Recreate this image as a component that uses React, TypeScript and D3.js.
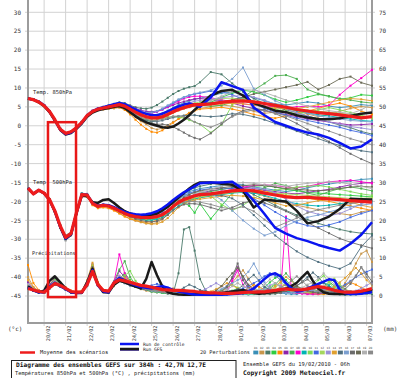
import React from "react";
import * as d3 from "d3";

// time grids (hours after 19/02/2010 06h)
const HOURS_TEMP: number[] = [...d3.range(0, 193, 6), ...d3.range(204, 385, 12)];
const HOURS_PRECIP: number[] = d3.range(0, 385, 6);
const DAY_HOURS: number[] = d3.range(18, 385, 24);
const DAY_LABELS = ["20/02","21/02","22/02","23/02","24/02","25/02","26/02","27/02","28/02","01/03","02/03","03/03","04/03","05/03","06/03","07/03"];
const TEMP_TICKS = [30,25,20,15,10,5,0,-5,-10,-15,-20,-25,-30,-35,-40,-45];
const PRECIP_TICKS = [75,70,65,60,55,50,45,40,35,30,25,20,15,10,5,0];
const MEMBER_IDS = ["01","02","03","04","05","06","07","08","09","10","11","12","13","14","15","16","17","18","19","20"];
const MEMBER_COLORS = ["#3a8fb7","#c8964b","#4a7a6a","#2ecc40","#ff8c00","#8e24aa","#4caf50","#ff00cc","#00b3b3","#7ed957","#4169e1","#a4d65e","#9a8fd8","#e0a030","#4f6f7f","#7b9fd0","#6b6b6b","#6a6a55","#b0b0b0","#8a8a8a"];

// 850 hPa (°C)
const MEAN_850 = [7.2,6.9,6.3,5.3,3.8,1.6,-0.9,-2.0,-1.6,-0.5, 0.9,2.7,3.8,4.4,4.7,5.0,5.3,5.6,5.2,4.4, 3.6,2.9,2.4,2.1,2.1,2.4,3.0,3.7,4.3,4.8,5.2,5.6,5.6, 5.8,6.2,6.5,6.6,6.3,5.9,5.4,4.9,4.3,3.9,3.5,3.2,2.9,2.5,2.1,2.4];
const CTRL_850 = [7.2,6.9,6.4,5.4,3.8,1.5,-1.0,-2.2,-1.8,-0.6, 0.8,2.7,3.9,4.5,4.9,5.3,5.7,6.0,5.7,5.0, 4.3,3.6,3.1,2.8,2.8,3.2,3.8,4.5,5.1,5.6,5.9,5.6,5.0, 7.5,11.5,10.5,9.5,4.8,2.8,1.0,0.0,-1.0,-1.8,-2.3,-3.2,-4.5,-6.0,-5.5,-3.6];
const GFS_850 = [7.2,6.9,6.2,5.2,3.6,1.4,-1.1,-2.3,-1.9,-0.8, 0.6,2.4,3.5,4.1,4.4,4.7,5.0,5.2,4.7,3.6, 2.5,1.6,0.9,0.4,0.0,-0.4,-0.5,-0.2,0.6,1.6,2.8,4.2,5.5, 8.0,9.2,9.5,8.0,6.0,5.0,4.0,3.6,2.8,2.2,1.8,1.7,2.0,2.6,3.2,3.5];
const PERT_850: number[][] = [
  [7.2,6.9,6.4,5.4,3.9,1.7,-0.7,-1.9,-1.5,-0.3, 1.1,2.9,3.9,4.6,5.0,5.3,5.7,6.0,5.6,4.9, 4.2,3.6,3.1,2.8,2.9,3.3,4.0,4.8,5.5,6.1,6.6,7.0,7.3, 7.9,8.6,8.9,8.2,7.4,6.6,5.8,5.5,5.9,6.3,6.0,5.2,4.8,5.1,5.6,5.3],
  [7.2,6.8,6.2,5.2,3.7,1.5,-1.1,-2.2,-1.8,-0.7, 0.7,2.5,3.6,4.1,4.3,4.5,4.6,4.8,4.3,3.3, 2.3,1.2,0.4,-0.6,-1.0,-0.6,0.2,1.0,1.8,2.6,3.4,4.2,4.6, 5.0,5.5,5.2,4.6,3.8,3.3,3.6,4.4,4.0,3.1,2.4,2.9,3.8,4.6,5.1,4.8],
  [7.2,6.9,6.3,5.4,3.9,1.8,-0.8,-1.9,-1.4,-0.3, 1.0,2.8,4.0,4.6,5.0,5.4,5.8,6.2,6.0,5.4, 4.9,4.6,4.5,4.8,5.5,6.4,7.4,8.4,9.2,9.8,10.2,10.5,11.5, 14.2,13.6,11.2,9.0,7.2,5.8,5.0,4.2,3.5,2.6,1.8,1.0,0.2,-0.5,-1.5,-2.2],
  [7.2,6.9,6.3,5.2,3.7,1.5,-1.0,-2.1,-1.7,-0.6, 0.8,2.6,3.7,4.3,4.6,4.9,5.2,5.5,5.1,4.1, 3.0,2.0,1.4,1.2,1.5,2.2,3.0,3.8,4.5,5.0,5.3,5.5,5.6, 6.2,7.5,8.6,9.4,9.0,8.1,7.0,6.2,6.8,7.6,8.3,7.8,7.0,7.4,8.2,8.0],
  [7.2,6.9,6.3,5.3,3.8,1.6,-0.9,-2.1,-1.7,-0.5, 0.9,2.7,3.7,4.2,4.4,4.6,4.8,4.9,4.2,3.0, 1.6,0.3,-0.8,-1.6,-1.8,-1.2,-0.2,0.8,1.8,2.6,3.4,4.0,4.4, 4.6,4.9,4.4,3.8,3.0,2.4,2.0,2.6,3.4,3.9,4.6,5.4,6.0,5.2,3.9,3.0],
  [7.2,6.9,6.3,5.3,3.9,1.7,-0.8,-1.9,-1.5,-0.4, 1.0,2.8,3.9,4.5,4.9,5.2,5.5,5.9,5.7,5.2, 4.6,4.1,3.8,3.7,3.9,4.3,4.9,5.5,6.0,6.4,6.8,7.1,7.2, 7.0,6.6,6.0,5.2,4.6,4.0,3.4,3.0,2.4,1.8,1.4,1.0,0.6,0.2,0.3,0.5],
  [7.2,6.9,6.3,5.3,3.8,1.6,-0.9,-2.0,-1.6,-0.4, 1.0,2.8,3.9,4.5,4.8,5.1,5.5,5.8,5.4,4.5, 3.5,2.7,2.2,2.0,2.2,2.8,3.5,4.2,4.8,5.2,5.4,5.5,5.4, 5.2,5.4,6.2,7.6,9.4,11.2,13.2,13.4,12.4,9.6,8.5,7.8,7.2,6.8,6.3,6.0],
  [7.2,6.9,6.3,5.3,3.8,1.6,-0.9,-2.0,-1.5,-0.4, 1.0,2.8,4.0,4.6,4.9,5.2,5.5,5.8,5.4,4.6, 3.9,3.4,3.2,3.3,3.7,4.3,5.0,5.8,6.5,7.2,7.6,7.8,7.8, 7.4,6.9,6.3,5.8,5.4,5.2,5.0,4.8,5.0,5.2,5.0,5.4,8.2,10.6,12.6,14.8],
  [7.2,6.9,6.3,5.3,3.8,1.6,-0.8,-1.9,-1.5,-0.4, 1.0,2.8,3.9,4.5,4.8,5.1,5.4,5.7,5.3,4.6, 3.8,3.0,2.5,2.2,2.3,2.7,3.3,4.0,4.6,5.0,5.4,5.7,5.9, 6.1,6.4,6.6,6.5,6.2,5.8,5.2,4.6,4.0,3.4,2.9,2.6,2.2,1.8,1.4,1.2],
  [7.2,6.9,6.3,5.3,3.7,1.5,-1.0,-2.1,-1.7,-0.6, 0.8,2.6,3.7,4.3,4.6,4.9,5.2,5.4,4.9,4.0, 3.2,2.5,2.1,1.9,1.9,2.1,2.3,2.4,2.3,2.0,1.5,1.0,0.4, -1.8,0.3,5.6,7.4,6.2,5.0,4.4,3.8,3.2,3.6,4.2,4.8,4.2,3.5,2.8,2.0],
  [7.2,6.9,6.3,5.3,3.8,1.6,-0.9,-2.0,-1.6,-0.5, 0.9,2.7,3.8,4.4,4.8,5.2,5.6,5.9,5.6,4.9, 4.3,3.8,3.5,3.5,3.8,4.4,5.2,6.0,6.8,7.5,8.0,8.4,8.6, 9.2,9.0,8.2,7.0,5.8,4.6,3.6,2.8,2.0,1.4,0.8,0.2,-0.4,-1.2,-1.8,-2.6],
  [7.2,6.9,6.3,5.3,3.8,1.7,-0.8,-2.0,-1.6,-0.5, 0.9,2.7,3.8,4.4,4.7,5.0,5.3,5.5,5.1,4.3, 3.5,2.8,2.3,2.0,2.0,2.4,3.0,3.7,4.4,5.0,5.6,6.0,6.3, 6.8,7.2,7.3,7.0,6.5,6.0,5.6,5.0,4.5,4.1,3.8,3.6,3.3,3.0,2.6,2.2],
  [7.2,6.9,6.3,5.4,3.9,1.6,-0.9,-2.1,-1.7,-0.5, 0.9,2.8,3.9,4.4,4.7,5.0,5.3,5.6,5.2,4.4, 3.6,2.9,2.4,2.2,2.3,2.8,3.5,4.3,5.0,5.6,6.1,6.5,6.7, 7.0,7.4,7.8,8.0,7.6,6.8,5.6,4.4,3.4,2.6,1.8,1.0,0.4,-0.2,-0.6,-1.0],
  [7.2,6.9,6.3,5.3,3.8,1.5,-1.0,-2.0,-1.6,-0.5, 0.9,2.7,3.8,4.3,4.6,4.9,5.2,5.4,4.9,4.0, 3.2,2.4,1.8,1.5,1.6,2.0,2.7,3.4,4.0,4.5,4.9,5.2,5.4, 5.6,5.8,5.9,5.8,5.5,5.1,4.7,4.5,4.6,5.0,5.6,6.2,6.8,7.2,7.0,6.6],
  [7.2,6.9,6.3,5.3,3.8,1.6,-0.9,-2.0,-1.6,-0.5, 0.9,2.6,3.7,4.3,4.6,4.9,5.1,5.2,4.7,3.8, 2.9,2.0,1.4,1.1,1.1,1.4,1.8,2.2,2.5,2.7,2.8,2.8,2.6, 2.4,2.6,3.2,3.0,2.4,1.6,0.6,-0.4,-1.4,-2.4,-3.4,-4.4,-5.2,-6.0,-6.6,-7.0],
  [7.2,6.9,6.3,5.3,3.8,1.6,-0.9,-2.0,-1.6,-0.5, 0.9,2.8,3.9,4.5,4.8,5.1,5.5,5.8,5.5,4.8, 4.1,3.6,3.4,3.5,3.9,4.6,5.4,6.2,7.0,7.6,8.1,8.5,8.8, 9.4,10.6,12.4,15.4,9.8,8.2,6.6,5.4,4.2,3.4,2.6,2.2,1.8,1.4,1.2,1.0],
  [7.2,6.9,6.3,5.3,3.8,1.6,-0.9,-2.0,-1.6,-0.5, 0.9,2.7,3.8,4.4,4.6,4.8,5.0,5.1,4.6,3.6, 2.6,1.7,1.0,0.6,0.4,0.4,0.2,-0.3,-1.0,-1.8,-2.6,-3.2,-3.6, -2.0,0.4,2.6,4.0,4.6,4.2,3.2,2.0,0.6,-1.0,-2.6,-4.2,-5.8,-7.4,-8.8,-10.0],
  [7.2,6.9,6.3,5.3,3.8,1.6,-0.9,-2.0,-1.6,-0.5, 0.9,2.7,3.8,4.4,4.7,5.0,5.3,5.6,5.2,4.4, 3.6,2.9,2.4,2.1,2.1,2.4,3.0,3.6,4.2,4.7,5.1,5.4,5.6, 5.8,6.2,6.8,7.6,8.4,9.0,9.6,10.2,10.8,11.6,9.6,10.8,12.4,13.0,11.4,10.6],
  [7.2,6.9,6.3,5.3,3.8,1.6,-0.9,-2.0,-1.6,-0.5, 0.9,2.7,3.8,4.4,4.7,5.0,5.3,5.6,5.2,4.4, 3.6,2.9,2.4,2.1,2.1,2.4,3.0,3.7,4.3,4.8,5.2,5.6,5.9, 6.6,7.8,9.0,9.6,9.4,8.8,7.8,6.8,6.0,5.2,4.6,4.0,3.6,3.2,4.2,5.8],
  [7.2,6.9,6.3,5.3,3.8,1.6,-0.9,-2.0,-1.6,-0.5, 0.9,2.7,3.8,4.4,4.7,5.0,5.3,5.5,5.0,4.0, 3.0,2.2,1.7,1.4,1.4,1.7,2.1,2.5,2.6,2.4,1.8,1.0,0.4, -0.4,0.8,2.4,3.6,4.2,4.0,3.4,2.6,1.6,0.6,-0.4,-1.4,-2.4,-3.4,-4.2,-5.0],
];

// 500 hPa (°C)
const MEAN_500 = [-16.5,-18.0,-17.0,-17.8,-19.5,-22.5,-26.5,-29.5,-28.5,-23.0, -18.2,-18.3,-20.5,-21.3,-21.0,-21.2,-21.8,-22.5,-23.2,-23.7, -24.0,-24.2,-24.3,-24.2,-24.0,-23.5,-22.6,-21.3,-20.2,-19.5,-19.0,-18.5,-18.2, -18.0,-17.6,-17.2,-17.0,-17.2,-17.8,-18.3,-18.8,-19.0,-18.9,-19.1,-19.3,-19.5,-19.8,-20.0,-20.2];
const CTRL_500 = [-16.5,-18.0,-17.0,-17.8,-19.6,-22.6,-26.7,-29.8,-28.7,-23.1, -18.2,-18.2,-20.4,-21.2,-20.9,-21.0,-21.5,-22.2,-22.8,-23.2, -23.4,-23.5,-23.4,-23.1,-22.6,-21.8,-20.8,-19.6,-18.6,-17.6,-16.8,-16.0,-15.2, -15.0,-15.0,-14.8,-16.8,-19.8,-23.3,-27.0,-28.5,-29.7,-30.5,-31.5,-32.3,-33.0,-31.2,-28.8,-25.5];
const GFS_500 = [-16.5,-18.0,-17.1,-17.9,-19.6,-22.7,-26.8,-29.9,-28.8,-23.2, -18.5,-18.6,-20.2,-20.4,-19.6,-19.4,-20.4,-21.6,-22.6,-23.2, -23.6,-23.8,-23.8,-23.6,-23.2,-22.4,-21.4,-20.2,-19.0,-17.8,-16.6,-15.6,-15.0, -15.0,-15.3,-15.6,-17.2,-21.6,-19.5,-19.8,-20.0,-22.5,-25.8,-25.2,-24.0,-22.0,-19.3,-19.4,-19.5];
const PERT_500: number[][] = [
  [-16.5,-18.0,-17.1,-17.9,-19.7,-22.8,-26.9,-30.0,-28.8,-22.6, -17.8,-18.0,-20.2,-21.0,-20.8,-21.0,-21.5,-22.1,-22.8,-23.2, -23.5,-23.6,-23.5,-23.2,-22.8,-22.0,-21.0,-19.8,-18.8,-18.0,-17.4,-17.0,-16.6, -16.2,-15.8,-15.4,-15.6,-16.2,-16.6,-17.0,-17.4,-17.0,-16.4,-15.8,-15.4,-15.0,-14.6,-14.2,-14.0],
  [-16.5,-18.0,-17.0,-17.7,-19.4,-22.3,-26.2,-29.2,-28.2,-23.3, -18.6,-18.6,-20.8,-21.6,-21.4,-21.6,-22.3,-23.1,-23.9,-24.6, -25.1,-25.5,-25.8,-25.9,-25.6,-24.8,-23.4,-21.8,-20.6,-19.8,-19.4,-19.2,-19.0, -18.4,-17.6,-17.0,-16.8,-17.6,-18.6,-19.6,-20.4,-21.0,-21.6,-22.2,-22.8,-23.2,-23.6,-22.8,-22.2],
  [-16.5,-18.0,-17.0,-17.8,-19.5,-22.6,-26.6,-29.6,-28.5,-22.8, -18.0,-18.2,-20.4,-21.2,-20.9,-21.1,-21.7,-22.4,-23.1,-23.5, -23.8,-24.0,-24.0,-23.8,-23.4,-22.6,-21.4,-20.0,-18.8,-17.8,-17.0,-16.4,-16.0, -15.4,-15.0,-15.6,-16.8,-18.2,-19.6,-21.0,-22.4,-23.6,-24.8,-25.8,-26.6,-27.4,-28.0,-28.4,-28.6],
  [-16.5,-18.0,-17.0,-17.8,-19.6,-22.7,-26.8,-29.8,-28.7,-23.2, -18.4,-18.5,-20.7,-21.5,-21.2,-21.4,-22.0,-22.7,-23.4,-24.0, -24.4,-24.7,-24.9,-24.8,-24.5,-23.8,-22.8,-21.6,-20.6,-20.2,-21.2,-23.0,-20.6, -24.6,-21.2,-17.8,-16.6,-16.0,-15.8,-16.2,-16.8,-17.2,-17.6,-17.8,-18.0,-18.2,-18.4,-18.6,-18.8],
  [-16.5,-18.0,-17.0,-17.8,-19.5,-22.4,-26.4,-29.4,-28.6,-23.4, -18.6,-18.8,-21.0,-21.8,-21.6,-21.8,-22.4,-23.2,-24.0,-24.6, -25.0,-25.3,-25.5,-25.4,-25.0,-24.2,-23.0,-21.6,-20.6,-20.0,-19.6,-19.2,-18.9, -18.6,-18.2,-17.6,-17.2,-17.0,-17.2,-17.8,-18.4,-18.8,-19.2,-19.6,-20.0,-20.6,-21.2,-21.8,-22.4],
  [-16.5,-18.0,-17.0,-17.8,-19.5,-22.5,-26.5,-29.4,-28.3,-22.8, -18.0,-18.1,-20.3,-21.1,-20.9,-21.1,-21.7,-22.4,-23.0,-23.5, -23.8,-24.0,-24.1,-24.0,-23.7,-23.1,-22.2,-21.0,-20.0,-19.2,-18.6,-18.2,-17.8, -17.2,-16.8,-16.4,-16.2,-16.6,-17.0,-17.4,-17.8,-18.0,-17.6,-17.2,-16.8,-16.2,-15.6,-15.2,-15.0],
  [-16.5,-18.0,-17.0,-17.8,-19.5,-22.5,-26.6,-29.7,-28.6,-23.0, -18.2,-18.3,-20.5,-21.3,-21.0,-21.2,-21.8,-22.5,-23.2,-23.8, -24.2,-24.5,-24.7,-24.6,-24.3,-23.7,-22.7,-21.4,-20.4,-19.6,-19.0,-18.4,-18.0, -17.4,-16.8,-16.4,-16.8,-17.6,-16.4,-15.2,-15.8,-16.8,-17.8,-18.4,-17.4,-16.6,-16.2,-16.6,-17.2],
  [-16.5,-18.0,-17.0,-17.8,-19.5,-22.5,-26.4,-29.3,-28.4,-22.9, -18.2,-18.4,-20.6,-21.4,-21.1,-21.3,-21.9,-22.6,-23.3,-23.8, -24.1,-24.3,-24.4,-24.3,-24.1,-23.6,-22.7,-21.4,-20.3,-19.6,-19.1,-18.7,-18.4, -18.0,-17.4,-16.8,-16.2,-15.8,-15.6,-15.8,-16.2,-16.4,-16.0,-15.4,-14.8,-14.6,-14.4,-14.8,-15.2],
  [-16.5,-18.0,-17.0,-17.8,-19.5,-22.5,-26.5,-29.5,-28.5,-23.0, -18.2,-18.3,-20.5,-21.3,-21.0,-21.2,-21.8,-22.6,-23.4,-24.0, -24.4,-24.7,-24.9,-24.9,-24.7,-24.2,-23.4,-22.2,-21.2,-20.4,-19.8,-19.4,-19.0, -18.6,-18.2,-17.8,-17.6,-17.8,-18.4,-19.2,-20.0,-20.6,-21.0,-21.2,-21.0,-20.6,-20.2,-20.0,-19.8],
  [-16.5,-18.0,-17.0,-17.8,-19.5,-22.5,-26.5,-29.5,-28.4,-22.8, -18.0,-18.2,-20.4,-21.2,-21.0,-21.2,-21.8,-22.5,-23.2,-23.7, -24.0,-24.2,-24.3,-24.2,-24.0,-23.5,-22.5,-21.0,-19.6,-18.6,-18.0,-17.6,-17.4, -18.6,-20.8,-22.4,-21.0,-19.2,-17.8,-17.0,-16.6,-16.2,-16.0,-15.8,-16.2,-16.8,-17.4,-18.0,-18.4],
  [-16.5,-18.0,-17.0,-17.8,-19.5,-22.5,-26.5,-29.5,-28.5,-23.0, -18.2,-18.3,-20.5,-21.3,-21.0,-21.2,-21.7,-22.3,-22.9,-23.3, -23.6,-23.7,-23.7,-23.5,-23.1,-22.4,-21.4,-20.2,-19.2,-18.4,-17.8,-17.4,-17.0, -16.6,-16.4,-16.6,-17.6,-19.2,-21.0,-22.8,-24.4,-25.6,-26.4,-26.8,-26.2,-25.4,-24.2,-23.2,-22.4],
  [-16.5,-18.0,-17.0,-17.8,-19.4,-22.4,-26.4,-29.3,-28.3,-23.0, -18.3,-18.4,-20.5,-21.3,-21.1,-21.3,-21.9,-22.6,-23.3,-23.9, -24.3,-24.5,-24.6,-24.5,-24.2,-23.6,-22.6,-21.4,-20.4,-19.7,-19.3,-19.0,-18.8, -18.4,-18.0,-17.6,-17.4,-17.4,-17.6,-17.8,-18.0,-18.2,-18.4,-18.6,-18.8,-19.0,-19.2,-19.2,-19.0],
  [-16.5,-18.0,-17.0,-17.8,-19.5,-22.6,-26.4,-29.2,-28.4,-23.1, -18.1,-18.3,-20.5,-21.3,-21.0,-21.2,-21.8,-22.5,-23.2,-23.7, -24.0,-24.2,-24.3,-24.2,-24.0,-23.5,-22.6,-21.3,-20.2,-19.5,-19.0,-18.5,-18.2, -17.8,-17.4,-17.0,-16.6,-16.4,-16.8,-17.8,-19.4,-21.2,-22.6,-23.4,-23.8,-23.2,-22.0,-20.6,-19.6],
  [-16.5,-18.0,-17.0,-17.8,-19.5,-22.5,-26.6,-29.6,-28.6,-23.0, -18.2,-18.3,-20.5,-21.3,-21.0,-21.2,-21.8,-22.6,-23.5,-24.3, -24.9,-25.4,-25.8,-26.0,-25.9,-25.4,-24.4,-23.0,-21.6,-20.6,-20.0,-19.6,-19.4, -19.0,-18.6,-18.4,-18.6,-19.0,-19.6,-20.4,-21.2,-21.0,-20.4,-19.8,-19.4,-19.6,-20.2,-21.0,-21.6],
  [-16.5,-18.0,-17.0,-17.8,-19.6,-22.8,-27.0,-30.2,-28.9,-23.3, -18.3,-18.3,-20.5,-21.3,-21.0,-21.2,-21.8,-22.5,-23.2,-23.7, -24.0,-24.2,-24.3,-24.2,-24.0,-23.5,-22.6,-21.4,-20.4,-19.6,-19.0,-18.6,-18.4, -18.2,-18.4,-19.2,-21.0,-23.6,-26.4,-29.0,-31.2,-33.2,-34.8,-36.0,-37.0,-37.8,-36.4,-32.0,-29.0],
  [-16.5,-18.0,-17.0,-17.8,-19.5,-22.5,-26.5,-29.5,-28.5,-23.0, -18.2,-18.3,-20.5,-21.3,-21.0,-21.2,-21.8,-22.5,-23.1,-23.5, -23.7,-23.8,-23.8,-23.6,-23.2,-22.6,-21.6,-20.4,-19.4,-18.6,-18.0,-17.6,-17.4, -17.8,-19.6,-22.4,-25.0,-27.2,-29.0,-28.0,-26.4,-25.2,-24.2,-23.6,-22.8,-22.0,-21.4,-21.0,-20.6],
  [-16.5,-18.0,-17.0,-17.8,-19.4,-22.3,-26.2,-29.0,-28.0,-22.7, -18.2,-18.3,-20.5,-21.3,-21.0,-21.2,-21.8,-22.5,-23.3,-24.0, -24.6,-25.0,-25.3,-25.4,-25.2,-24.6,-23.6,-22.4,-21.4,-20.8,-20.6,-20.6,-20.8, -21.6,-22.4,-21.6,-20.4,-19.8,-20.4,-21.4,-22.6,-24.0,-25.6,-27.0,-28.4,-29.8,-30.8,-31.6,-32.4],
  [-16.5,-18.0,-17.0,-17.8,-19.5,-22.5,-26.5,-29.5,-28.5,-23.0, -18.2,-18.3,-20.5,-21.3,-21.0,-21.2,-21.8,-22.5,-23.2,-23.7, -24.0,-24.2,-24.3,-24.2,-24.0,-23.5,-22.6,-21.3,-20.0,-19.0,-18.2,-17.6,-17.2, -16.8,-16.4,-16.0,-15.8,-15.6,-15.8,-16.2,-16.6,-16.8,-17.0,-17.2,-17.0,-16.6,-16.2,-16.0,-16.2],
  [-16.5,-18.0,-17.0,-17.8,-19.6,-22.7,-26.8,-30.4,-29.0,-23.2, -18.1,-18.3,-20.5,-21.3,-21.0,-21.2,-21.8,-22.5,-23.2,-23.7, -24.0,-24.2,-24.3,-24.2,-24.0,-23.5,-22.6,-21.3,-20.2,-19.4,-18.8,-18.2,-17.6, -16.8,-16.0,-15.4,-15.0,-15.2,-15.6,-15.8,-16.0,-15.6,-15.2,-15.0,-14.8,-15.0,-15.4,-16.0,-16.6],
  [-16.5,-18.0,-17.0,-17.8,-19.5,-22.5,-26.5,-29.5,-28.5,-23.0, -18.2,-18.3,-20.5,-21.3,-21.0,-21.2,-21.8,-22.5,-23.2,-23.7, -24.0,-24.2,-24.3,-24.2,-24.0,-23.5,-22.6,-21.4,-20.6,-20.2,-20.0,-20.0,-20.2, -20.8,-21.6,-22.0,-21.4,-22.6,-24.8,-26.8,-25.6,-24.4,-23.0,-22.2,-21.6,-21.0,-20.6,-20.2,-19.8],
];

// precipitation (mm / 6h)
const MEAN_PR = [2.0,1.6,1.2,1.0, 2.2,3.3,2.8,2.0, 1.2,1.0,1.0, 3.0,6.5,3.0,1.5, 1.3,3.5,4.3,4.0,3.6,3.2, 2.8,2.6,2.3,2.0,1.7,1.6,1.5,1.5,1.4,1.3,1.2,1.0, 0.9,0.8,0.8,0.7,0.7,0.7,0.8,0.9,1.0,1.0,1.1,1.1, 1.3,1.5,1.7,1.9,1.7,1.6,1.7,1.9,2.2,2.5,2.3,1.9,1.5,1.2,1.0,1.0,1.1,1.3,1.6,2.0];
const CTRL_PR = [2.2,1.5,1.0,1.0, 2.5,3.5,2.6,1.8, 1.0,0.8,0.9, 3.2,6.8,2.8,1.2, 1.0,3.6,4.8,4.2,3.4,2.8, 2.4,2.2,2.0,2.4,2.6,2.2,1.6,1.2,0.9,0.6,0.4,0.3, 0.3,0.3,0.3,0.3,0.4,0.5,0.6,0.8,1.2,2.0,3.2,4.5, 5.6,6.0,5.2,3.4,2.0,1.2,1.4,2.0,2.6,3.2,3.8,4.4,4.2,1.6,0.8,0.5,0.5,0.6,0.8,1.0];
const GFS_PR = [2.6,1.5,1.0,1.4, 4.0,5.2,3.6,2.0, 1.0,0.8,0.8, 3.6,7.2,3.0,1.0, 0.9,3.0,4.0,3.6,3.0,2.5, 2.0,4.5,9.0,5.5,2.5,1.0,0.6,0.4,0.3,0.3,0.4,0.5, 0.5,0.5,0.6,0.8,1.0,1.2,1.4,1.6,1.2,0.8,0.6,0.8, 1.0,1.2,1.5,2.0,2.6,3.5,5.0,6.4,4.0,2.0,1.0,0.6,0.5,0.5,0.5,0.6,0.8,1.0,1.2,1.5];
const PERT_PR: number[][] = [
  [3.0,1.8,1.2,1.0, 2.4,3.6,3.0,2.0, 1.2,0.8,0.8, 3.0,6.6,3.2,1.4, 1.2,3.2,5.0,4.0,3.0,2.6, 2.2,2.0,1.8,1.4,1.0,0.8,0.6,0.5,0.4,0.4,0.3,0.3, 0.3,0.3,0.4,0.5,0.6,0.8,0.6,0.5,0.4,0.6,0.8,1.0, 1.2,1.0,0.8,0.6,0.5,0.5,0.8,1.2,1.6,2.4,1.8,1.0,0.6,0.4,0.3,0.3,0.4,0.6,0.8,1.0],
  [5.0,2.4,1.4,1.2, 3.0,4.8,3.6,2.2, 1.0,0.8,1.0, 3.8,8.0,3.4,1.2, 1.0,2.6,4.0,5.6,3.8,2.4, 1.8,1.4,1.2,1.0,1.2,1.6,2.0,1.4,1.0,0.8,0.6,0.5, 0.5,0.6,0.8,1.2,2.0,3.6,5.2,6.8,4.6,2.4,1.2,0.8, 0.6,0.8,1.2,2.0,2.8,2.2,1.4,1.0,1.6,2.6,2.0,1.2,0.8,1.6,3.4,5.8,8.6,11.2,12.0,9.0],
  [2.0,1.4,1.0,0.8, 2.0,3.0,2.6,1.8, 1.0,0.8,1.2, 3.4,7.0,3.0,1.2, 1.0,2.8,4.2,3.6,3.0,2.6, 2.0,1.6,1.2,1.0,0.8,0.6,0.6,6.0,17.6,18.2,12.0,4.5, 1.5,0.8,0.6,0.5,0.5,0.6,0.8,1.0,0.8,0.6,0.5,0.5, 0.5,0.6,0.8,1.0,1.2,1.0,0.8,0.6,0.5,0.5,0.6,0.8,1.0,1.2,1.4,1.2,1.0,0.8,0.6,0.5],
  [2.4,1.6,1.2,1.0, 2.6,4.0,3.2,2.0, 1.2,1.0,1.2, 3.6,7.6,3.6,1.6, 1.2,3.0,4.6,6.0,4.2,2.8, 2.0,1.6,1.2,1.0,0.8,0.8,0.6,0.5,0.4,0.4,0.3,0.4, 0.4,0.5,0.6,0.8,1.0,1.4,2.0,1.6,1.2,1.0,1.4,2.2, 3.6,4.8,5.6,4.2,2.6,1.4,1.0,0.8,1.0,1.4,2.4,3.8,2.6,1.4,0.8,0.6,0.5,0.6,0.8,1.0],
  [8.2,3.4,1.6,1.0, 2.2,3.4,3.0,2.2, 1.4,1.0,1.0, 2.8,6.2,3.2,1.6, 1.4,3.6,5.2,4.4,3.6,3.0, 2.6,2.2,2.0,1.6,1.2,1.0,0.8,0.6,0.5,0.4,0.4,0.3, 0.3,0.3,0.3,0.4,0.5,0.6,0.8,1.2,2.0,3.0,2.4,1.6, 1.2,1.6,2.4,3.2,2.6,1.8,1.2,0.8,0.6,0.5,0.5,0.6,1.0,1.8,2.8,3.6,3.0,2.2,1.6,1.2],
  [3.6,2.0,1.4,1.2, 3.0,4.6,3.4,2.0, 1.0,0.8,1.0, 4.0,8.4,3.6,1.2, 1.0,3.4,6.6,5.0,3.2,2.4, 2.0,1.8,1.6,1.4,1.2,1.0,0.8,0.6,0.5,0.4,0.4,0.4, 0.5,0.6,0.8,1.4,2.6,4.6,7.6,5.0,2.6,1.4,1.0,0.8, 0.8,1.0,1.2,1.0,0.8,0.8,1.0,1.4,2.0,2.6,2.0,1.4,1.0,0.8,0.6,0.6,0.8,1.0,1.2,1.4],
  [2.2,1.6,1.2,1.0, 2.8,4.4,3.4,2.2, 1.2,1.0,1.0, 3.2,7.2,3.4,1.4, 1.2,4.0,7.0,9.2,5.0,3.0, 2.2,1.8,1.4,1.2,1.0,0.8,0.8,0.6,0.6,0.5,0.5,0.5, 0.5,0.5,0.6,0.6,0.8,1.0,1.2,1.0,0.8,0.8,1.0,1.4, 2.0,3.0,4.6,6.0,4.4,2.6,1.6,1.2,1.0,1.2,1.8,2.8,4.0,2.6,1.6,1.0,0.8,0.8,1.0,1.2],
  [2.6,1.8,1.2,1.0, 2.4,3.8,3.2,2.0, 1.0,0.8,1.0, 3.4,7.4,3.4,1.4, 1.2,3.6,11.0,6.0,3.4,2.6, 2.2,1.8,1.6,1.4,1.2,1.0,0.8,0.6,0.6,0.5,0.5,0.5, 0.4,0.4,0.5,0.6,1.2,4.0,6.8,3.0,1.6,1.0,1.2,1.6, 2.0,1.4,1.0,21.0,1.2,0.8,0.6,0.5,0.5,0.6,0.8,1.0,1.2,1.4,1.2,1.0,0.8,0.8,1.0,1.2],
  [2.0,1.4,1.0,0.8, 2.0,3.2,2.6,1.8, 1.0,0.8,0.8, 2.6,6.0,2.8,1.2, 1.0,3.2,4.4,3.8,3.2,2.8, 2.4,2.0,1.8,1.6,1.4,1.2,1.0,0.8,0.6,0.5,0.4,0.4, 0.3,0.3,0.3,0.4,0.4,0.5,0.6,0.6,0.5,0.5,0.6,0.8, 1.0,1.2,1.4,1.2,1.0,1.0,1.2,1.6,2.0,2.8,3.6,2.8,1.8,1.2,0.8,0.6,0.6,0.8,1.0,1.4],
  [2.8,1.8,1.2,1.0, 2.6,4.2,3.2,2.0, 1.2,1.0,1.2, 3.6,8.2,3.6,1.4, 1.2,3.0,4.2,5.4,6.6,4.0, 2.6,2.0,1.6,1.4,1.2,1.0,0.8,0.6,0.5,0.4,0.4,0.4, 0.4,0.6,1.0,1.6,2.4,3.0,2.2,1.4,1.0,0.8,1.0,1.6, 2.4,3.2,2.6,1.8,1.2,1.0,1.0,1.6,2.8,4.2,5.4,3.6,2.0,1.2,0.8,0.6,0.5,0.6,0.8,1.0],
  [2.2,1.6,1.0,0.8, 2.2,3.4,2.8,1.8, 1.0,0.8,0.8, 2.8,6.4,3.0,1.2, 1.0,3.0,4.0,3.4,2.8,2.4, 2.2,2.4,2.8,3.2,2.8,2.2,1.6,1.2,0.8,0.6,0.5,0.4, 0.4,0.4,0.5,0.6,0.8,1.2,1.6,2.0,2.6,3.4,4.2,5.2, 6.0,5.4,4.2,3.0,2.4,2.0,1.8,1.6,1.4,1.2,1.0,1.2,1.6,2.2,3.0,4.0,5.0,5.8,6.4,7.0],
  [2.4,1.6,1.2,1.0, 2.4,3.6,3.0,2.0, 1.2,1.0,1.0, 3.2,7.0,3.2,1.4, 1.2,3.4,4.8,4.2,3.4,2.8, 2.4,2.0,1.8,1.6,1.4,1.2,1.0,0.8,0.7,0.6,0.5,0.5, 0.5,0.5,0.6,0.8,1.0,1.2,1.0,0.8,0.6,0.6,0.8,1.0, 1.4,2.2,3.4,2.8,1.8,1.2,1.0,1.0,1.2,1.6,2.4,3.6,4.6,3.2,1.8,1.2,0.8,0.6,0.6,0.8],
  [3.2,2.0,1.4,1.2, 2.8,4.0,3.2,2.0, 1.2,1.0,1.0, 3.0,6.8,3.4,1.6, 1.4,3.8,5.4,4.6,3.6,2.8, 2.2,1.8,1.4,1.2,1.0,0.8,0.6,0.5,0.5,0.6,0.8,1.2, 1.8,2.6,3.4,2.6,1.8,1.2,1.0,0.8,0.8,1.0,1.4,2.0, 2.8,3.4,2.6,1.8,1.4,1.2,1.0,1.2,1.6,2.2,1.8,1.4,1.0,0.8,0.8,1.0,1.4,2.0,2.8,3.6],
  [4.2,2.2,1.4,1.2, 2.6,3.8,3.2,2.2, 1.4,1.2,1.4, 4.2,8.8,3.8,1.6, 1.2,3.2,4.4,4.8,4.0,3.2, 2.6,2.2,1.8,1.4,1.2,1.0,0.8,0.6,0.5,0.5,0.5,0.6, 0.8,1.2,1.8,2.6,3.4,2.8,2.0,1.4,1.0,0.8,0.8,1.0, 1.6,2.6,3.8,5.0,4.0,2.6,1.6,1.2,1.0,1.0,1.2,1.6,2.4,3.6,4.8,6.2,7.4,6.0,4.2,2.8],
  [2.0,1.4,1.0,0.8, 2.0,3.0,2.4,1.6, 1.0,0.8,0.8, 2.8,6.2,2.8,1.2, 1.0,3.0,4.0,3.4,2.8,2.4, 2.0,1.8,1.6,1.4,1.2,1.0,1.0,1.4,2.2,3.0,2.4,1.6, 1.2,0.8,0.6,0.6,0.8,1.2,1.8,2.8,4.4,5.6,4.0,2.4, 1.6,1.2,1.0,1.2,1.8,2.6,3.8,5.0,6.2,5.0,3.4,2.4,1.6,1.2,1.0,0.8,0.8,1.0,1.2,1.4],
  [2.4,1.6,1.2,1.0, 2.4,3.6,3.0,2.0, 1.2,1.0,1.0, 3.0,6.8,3.2,1.4, 1.2,3.4,4.6,4.0,3.4,2.8, 2.4,2.0,1.8,1.6,1.4,1.2,1.0,0.8,0.6,0.5,0.5,0.5, 0.6,0.8,1.2,1.8,2.6,3.4,4.2,5.0,6.4,8.6,6.0,3.6, 2.0,1.4,1.0,0.8,0.8,1.0,1.2,1.4,1.2,1.0,0.8,0.8,1.0,1.2,1.4,1.2,1.0,0.8,0.8,1.0],
  [2.2,1.4,1.0,0.8, 2.2,3.2,2.8,1.8, 1.0,0.8,0.8, 2.8,6.4,3.0,1.2, 1.0,3.0,4.2,3.6,3.0,2.6, 2.2,1.8,1.6,1.4,1.2,1.0,0.8,0.6,0.5,0.4,0.4,0.4, 0.5,0.6,0.8,1.2,2.4,5.0,8.6,4.2,2.0,1.2,0.8,0.6, 0.6,0.8,1.0,1.4,2.0,2.8,3.6,4.4,3.2,2.0,1.4,1.0,0.8,1.0,1.8,3.2,5.4,7.6,5.8,3.8],
  [2.6,1.8,1.2,1.0, 2.4,3.4,2.8,1.8, 1.0,0.8,1.0, 3.2,7.6,3.4,1.4, 1.2,3.2,4.4,3.8,3.2,2.6, 2.2,1.8,1.6,1.4,1.2,1.0,0.8,0.6,0.6,0.5,0.5,0.5, 0.6,0.8,1.4,2.6,4.4,6.0,7.4,5.2,3.0,1.8,1.2,1.0, 0.8,0.8,1.0,1.4,2.0,2.6,2.0,1.4,1.0,0.8,0.8,1.0,1.4,1.8,1.4,1.0,0.8,0.8,1.0,1.2],
  [3.0,1.8,1.2,1.0, 2.2,3.4,3.0,2.0, 1.2,1.0,1.0, 3.0,6.6,3.2,1.4, 1.2,3.0,4.2,3.6,3.0,2.6, 2.2,1.8,1.6,1.4,1.2,1.0,0.8,0.6,0.6,0.5,0.5,0.5, 0.5,0.6,0.8,1.0,1.6,2.6,3.4,2.6,1.8,1.4,1.8,3.0, 4.4,3.4,2.2,1.6,1.4,1.6,2.2,3.0,3.6,4.6,6.0,4.6,3.0,2.0,1.4,1.0,0.8,0.8,1.0,1.2],
  [2.4,1.6,1.2,1.0, 2.4,3.6,3.0,2.0, 1.2,1.0,1.0, 3.0,7.0,3.2,1.4, 1.2,3.2,4.6,4.0,3.2,2.6, 2.2,1.8,1.6,1.4,1.2,1.0,0.8,0.6,0.6,0.5,0.5,0.5, 0.5,0.6,0.6,0.8,1.0,1.2,1.4,1.2,1.0,0.8,0.8,1.0, 1.2,1.6,2.2,3.0,4.0,5.2,4.0,2.6,1.8,1.4,1.2,1.2,1.4,1.8,2.6,3.8,5.2,7.6,5.0,3.0],
];

// annotation box (hours, °C)
const BOX_HOURS = [22.3, 53.6];
const BOX_TEMPS = [0.95, -45.3];

const FONT = "'DejaVu Sans Mono', monospace";

export default function App() {
  const x = d3.scaleLinear().domain([0, 384]).range([28, 372]);
  const yT = d3.scaleLinear().domain([-45, 30]).range([296, 12.3]);
  const yP = d3.scaleLinear().domain([0, 75]).range([296, 12.3]);

  const mk = (hours: number[], ys: any) =>
    d3.line<number>()
      .defined((d, i) => d != null && !isNaN(d) && i < hours.length)
      .x((_, i) => x(hours[i]))
      .y((d) => ys(d));
  const lineT = mk(HOURS_TEMP, yT);
  const lineP = mk(HOURS_PRECIP, yP);

  const groups = [
    { pert: PERT_PR, line: lineP, hours: HOURS_PRECIP, ys: yP },
    { pert: PERT_500, line: lineT, hours: HOURS_TEMP, ys: yT },
    { pert: PERT_850, line: lineT, hours: HOURS_TEMP, ys: yT },
  ];

  const gridColor = "#d2d2d2";
  const axisColor = "#9c9c9c";
  const plotBottom = 323;

  return (
    <svg width={399} height={378} style={{ position: "absolute", left: 0, top: 0, background: "#fff" }} fontFamily={FONT}>
      <rect x={0} y={0} width={399} height={378} fill="#fff" />
      {/* grid */}
      {TEMP_TICKS.map((t) => (
        <line key={"h" + t} x1={25} x2={375} y1={yT(t)} y2={yT(t)} stroke={gridColor} strokeWidth={1} />
      ))}
      {DAY_HOURS.map((h) => (
        <line key={"v" + h} x1={x(h)} x2={x(h)} y1={0} y2={plotBottom + 3} stroke={gridColor} strokeWidth={1} />
      ))}
      <line x1={x(0)} x2={x(0)} y1={0} y2={plotBottom} stroke={axisColor} strokeWidth={2} />
      <line x1={x(384)} x2={x(384)} y1={0} y2={plotBottom} stroke={axisColor} strokeWidth={2} />
      <line x1={x(0) - 1} x2={x(384) + 1} y1={plotBottom} y2={plotBottom} stroke={axisColor} strokeWidth={2} />

      {/* tick labels */}
      {TEMP_TICKS.map((t) => (
        <text key={"lt" + t} x={21} y={yT(t) + 2.2} fontSize={6} textAnchor="end" fill="#333">{t}</text>
      ))}
      {PRECIP_TICKS.map((p) => (
        <text key={"rt" + p} x={379} y={yP(p) + 2.2} fontSize={6} textAnchor="start" fill="#333">{p}</text>
      ))}
      {DAY_HOURS.map((h, i) => (
        <text key={"d" + h} transform={`translate(${x(h) + 5.5},${plotBottom + 2.5}) rotate(-90)`} fontSize={5.2}
          textAnchor="end" fill="#333">{DAY_LABELS[i]}</text>
      ))}
      <text x={8} y={331} fontSize={6} fill="#333">(°c)</text>
      <text x={383} y={331} fontSize={6} fill="#333">(mm)</text>

      {/* section labels */}
      <text x={33} y={94} fontSize={5.4} fill="#222">Temp. 850hPa</text>
      <text x={33} y={183.5} fontSize={5.4} fill="#222">Temp. 500hPa</text>
      <text x={32} y={255} fontSize={5.2} fill="#222">Précipitations</text>

      {/* perturbations */}
      {groups.map((g, gi) => (
        <g key={"g" + gi}>
          {g.pert.map((s, si) => (
            <g key={"p" + si}>
              <path d={g.line(s) || ""} fill="none" stroke={MEMBER_COLORS[si]} strokeWidth={1} strokeOpacity={0.9} />
              {s.map((v, i) =>
                i < g.hours.length ? (
                  <rect key={i} x={x(g.hours[i]) - 1} y={g.ys(v) - 1} width={2} height={2} fill={MEMBER_COLORS[si]} />
                ) : null
              )}
            </g>
          ))}
        </g>
      ))}

      {/* GFS run */}
      <path d={lineT(GFS_850) || ""} fill="none" stroke="#1a1a1a" strokeWidth={2.5} strokeLinejoin="round" />
      <path d={lineT(GFS_500) || ""} fill="none" stroke="#1a1a1a" strokeWidth={2.5} strokeLinejoin="round" />
      <path d={lineP(GFS_PR) || ""} fill="none" stroke="#1a1a1a" strokeWidth={2.5} strokeLinejoin="round" />
      {/* control run */}
      <path d={lineT(CTRL_850) || ""} fill="none" stroke="#0a14f0" strokeWidth={2.5} strokeLinejoin="round" />
      <path d={lineT(CTRL_500) || ""} fill="none" stroke="#0a14f0" strokeWidth={2.5} strokeLinejoin="round" />
      <path d={lineP(CTRL_PR) || ""} fill="none" stroke="#0a14f0" strokeWidth={2.5} strokeLinejoin="round" />
      {/* mean */}
      <path d={lineT(MEAN_850) || ""} fill="none" stroke="#ee1c1c" strokeWidth={3.2} strokeLinejoin="round" />
      <path d={lineT(MEAN_500) || ""} fill="none" stroke="#ee1c1c" strokeWidth={3.2} strokeLinejoin="round" />
      <path d={lineP(MEAN_PR) || ""} fill="none" stroke="#ee1c1c" strokeWidth={3.2} strokeLinejoin="round" />

      {/* annotation box */}
      <rect x={x(BOX_HOURS[0])} y={yT(BOX_TEMPS[0])} width={x(BOX_HOURS[1]) - x(BOX_HOURS[0])}
        height={yT(BOX_TEMPS[1]) - yT(BOX_TEMPS[0])} fill="none" stroke="#e81818" strokeWidth={2.5} />

      {/* legend */}
      <line x1={20} x2={35} y1={352.5} y2={352.5} stroke="#ee1c1c" strokeWidth={2.5} />
      <text x={40} y={354} fontSize={5.4} fill="#222">Moyenne des scénarios</text>
      <line x1={120} x2={139} y1={344} y2={344} stroke="#0a14f0" strokeWidth={2.5} />
      <text x={143} y={345.5} fontSize={4.6} fill="#222">Run de contrôle</text>
      <line x1={120} x2={139} y1={349} y2={349} stroke="#1a1a1a" strokeWidth={2.5} />
      <line x1={120} x2={139} y1={350.5} y2={350.5} stroke="#3a2a80" strokeWidth={0.8} />
      <text x={143} y={350.8} fontSize={4.6} fill="#222">Run GFS</text>
      <text x={200} y={354} fontSize={5.2} fill="#222">20 Perturbations</text>
      {MEMBER_IDS.map((id, i) => (
        <g key={"sw" + id}>
          <text x={253.3 + 6.04 * i + 2.5} y={349.2} fontSize={2.9} textAnchor="middle" fill="#333">{id}</text>
          <rect x={253.3 + 6.04 * i} y={350.6} width={5} height={3.8} fill={MEMBER_COLORS[i]} />
        </g>
      ))}

      {/* title box */}
      <rect x={11.5} y={360.5} width={224.5} height={30} fill="none" stroke="#222" strokeWidth={1} />
      <text x={16} y={367} fontSize={6.2} fontWeight="bold" fill="#111">Diagramme des ensembles GEFS sur 384h : 42,7N 12,7E</text>
      <text x={15} y={374.5} fontSize={5.35} fill="#222">Températures 850hPa et 500hPa (°C) , précipitations (mm)</text>
      <text x={243} y={365.7} fontSize={5.4} fill="#222">Ensemble GEFS du 19/02/2010 - 06h</text>
      <text x={243} y={374.7} fontSize={6.3} fontWeight="bold" fill="#111">Copyright 2009 Meteociel.fr</text>
    </svg>
  );
}
